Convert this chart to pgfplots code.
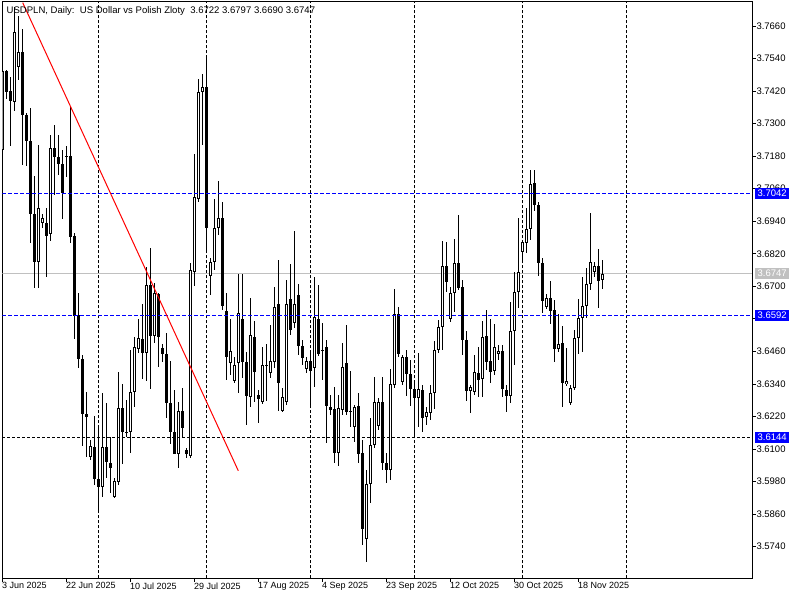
\documentclass[border=0pt]{standalone}
\usepackage{fontspec}
\setmainfont{Liberation Sans}
\usepackage{pgfplots}
\usepackage{pgfplotstable}
\pgfplotsset{compat=1.18}
\definecolor{mtblue}{RGB}{0,0,255}
\definecolor{mtsilver}{RGB}{192,192,192}

\pgfplotstableread{
O H L C
3.7203 3.7498 3.7155 3.7494
3.7494 3.7498 3.7391 3.7417
3.7420 3.7472 3.7218 3.7384
3.7380 3.7730 3.7347 3.7638
3.7509 3.7697 3.7461 3.7564
3.7564 3.7649 3.7148 3.7332
3.7332 3.7339 3.7144 3.7236
3.7236 3.7358 3.6860 3.6967
3.6967 3.7107 3.6694 3.6790
3.6790 3.7221 3.6694 3.6989
3.6934 3.6967 3.6915 3.6952
3.6934 3.6989 3.6735 3.6886
3.6893 3.7258 3.6867 3.7210
3.7210 3.7295 3.7037 3.7177
3.7177 3.7258 3.7111 3.7151
3.7151 3.7203 3.6948 3.7044
3.7181 3.7218 3.7103 3.7177
3.7181 3.7361 3.6860 3.6882
3.6886 3.6897 3.6506 3.6591
3.6594 3.6676 3.6399 3.6432
3.6432 3.6447 3.6111 3.6229
3.6229 3.6310 3.6071 3.6218
3.6071 3.6134 3.6060 3.6111
3.6108 3.6222 3.5968 3.5990
3.5990 3.6178 3.5875 3.5960
3.5960 3.6307 3.5923 3.6108
3.6108 3.6270 3.5993 3.6052
3.6049 3.6145 3.5938 3.6030
3.5923 3.5993 3.5921 3.5982
3.5979 3.6384 3.5968 3.6252
3.6252 3.6340 3.6045 3.6163
3.6163 3.6281 3.6145 3.6162
3.6162 3.6465 3.6086 3.6310
3.6310 3.6513 3.6255 3.6476
3.6469 3.6580 3.6454 3.6510
3.6506 3.6635 3.6358 3.6454
3.6454 3.6771 3.6351 3.6705
3.6705 3.6841 3.6322 3.6517
3.6517 3.6712 3.6491 3.6676
3.6672 3.6676 3.6403 3.6513
3.6473 3.6488 3.6421 3.6451
3.6451 3.6528 3.6215 3.6270
3.6270 3.6425 3.6119 3.6163
3.6163 3.6318 3.6093 3.6082
3.6082 3.6274 3.6030 3.6240
3.6240 3.6325 3.6141 3.6178
3.6097 3.6104 3.6067 3.6082
3.6075 3.6786 3.6067 3.6760
3.6753 3.7188 3.6701 3.7030
3.7022 3.7465 3.7011 3.7417
3.7417 3.7483 3.7221 3.7435
3.7435 3.7549 3.6827 3.6915
3.6738 3.6805 3.6668 3.6790
3.6790 3.7022 3.6760 3.6915
3.6915 3.7089 3.6889 3.6952
3.6952 3.7011 3.6613 3.6628
3.6609 3.6676 3.6355 3.6440
3.6417 3.6580 3.6373 3.6462
3.6351 3.6440 3.6344 3.6410
3.6417 3.6746 3.6307 3.6602
3.6580 3.6746 3.6362 3.6421
3.6421 3.6458 3.6189 3.6296
3.6292 3.6657 3.6255 3.6521
3.6513 3.6572 3.6274 3.6384
3.6299 3.6318 3.6196 3.6285
3.6274 3.6476 3.6266 3.6410
3.6410 3.6488 3.6277 3.6409
3.6381 3.6558 3.6362 3.6425
3.6421 3.6698 3.6399 3.6624
3.6635 3.6797 3.6240 3.6344
3.6240 3.6325 3.6237 3.6292
3.6274 3.6723 3.6263 3.6635
3.6653 3.6782 3.6521 3.6539
3.6565 3.6904 3.6547 3.6635
3.6668 3.6709 3.6447 3.6480
3.6480 3.6502 3.6410 3.6436
3.6395 3.6440 3.6381 3.6425
3.6425 3.6465 3.6255 3.6388
3.6399 3.6735 3.6329 3.6587
3.6580 3.6705 3.6443 3.6451
3.6465 3.6565 3.6355 3.6464
3.6476 3.6502 3.6122 3.6259
3.6255 3.6299 3.6226 3.6244
3.6248 3.6329 3.6049 3.6086
3.6086 3.6299 3.6038 3.6252
3.6244 3.6491 3.6226 3.6403
3.6417 3.6558 3.6226 3.6237
3.6240 3.6388 3.6181 3.6239
3.6181 3.6263 3.6126 3.6255
3.6259 3.6307 3.6049 3.6082
3.6086 3.6134 3.5746 3.5805
3.5768 3.6023 3.5684 3.5971
3.5971 3.6215 3.5901 3.6115
3.6115 3.6366 3.6104 3.6274
3.6185 3.6288 3.6170 3.6274
3.6274 3.6366 3.6023 3.6049
3.6049 3.6086 3.5975 3.6023
3.6023 3.6395 3.5986 3.6340
3.6336 3.6690 3.6325 3.6598
3.6598 3.6624 3.6440 3.6451
3.6347 3.6447 3.6336 3.6440
3.6440 3.6465 3.6296 3.6377
3.6377 3.6428 3.6259 3.6322
3.6322 3.6355 3.6145 3.6288
3.6288 3.6454 3.6181 3.6322
3.6318 3.6336 3.6163 3.6215
3.6218 3.6255 3.6189 3.6237
3.6233 3.6336 3.6207 3.6307
3.6307 3.6499 3.6248 3.6465
3.6465 3.6576 3.6454 3.6550
3.6550 3.6867 3.6465 3.6775
3.6775 3.6864 3.6679 3.6716
3.6580 3.6698 3.6569 3.6676
3.6676 3.6875 3.6605 3.6786
3.6786 3.6963 3.6687 3.6694
3.6698 3.6723 3.6447 3.6502
3.6502 3.6535 3.6277 3.6314
3.6314 3.6336 3.6233 3.6329
3.6310 3.6447 3.6299 3.6384
3.6381 3.6476 3.6292 3.6355
3.6358 3.6572 3.6292 3.6513
3.6517 3.6613 3.6392 3.6421
3.6425 3.6580 3.6344 3.6384
3.6388 3.6561 3.6373 3.6476
3.6451 3.6484 3.6428 3.6462
3.6462 3.6484 3.6292 3.6322
3.6318 3.6336 3.6237 3.6296
3.6296 3.6642 3.6270 3.6535
3.6535 3.6753 3.6410 3.6679
3.6679 3.6952 3.6620 3.6753
3.6827 3.6871 3.6797 3.6864
3.6860 3.6989 3.6823 3.6912
3.6912 3.7129 3.6871 3.7078
3.7081 3.7129 3.6978 3.7000
3.7000 3.7011 3.6738 3.6786
3.6786 3.6805 3.6602 3.6646
3.6624 3.6672 3.6617 3.6657
3.6657 3.6720 3.6561 3.6609
3.6613 3.6650 3.6421 3.6469
3.6469 3.6598 3.6458 3.6488
3.6491 3.6554 3.6255 3.6344
3.6340 3.6473 3.6333 3.6351
3.6270 3.6336 3.6263 3.6325
3.6325 3.6539 3.6318 3.6510
3.6510 3.6653 3.6451 3.6583
3.6583 3.6735 3.6458 3.6628
3.6628 3.6768 3.6583 3.6709
3.6709 3.6971 3.6687 3.6790
3.6753 3.6790 3.6735 3.6775
3.6775 3.6838 3.6620 3.6720
3.6722 3.6797 3.6690 3.6747
}\candles

\begin{document}
\begin{tikzpicture}[x=1pt,y=1pt]
\useasboundingbox (0,0) rectangle (800,600);
\fill[white] (0,0) rectangle (800,600);
\begin{axis}[
  at={(2.3pt,21.7pt)}, anchor=south west,
  scale only axis, width=750pt, height=576.6pt,
  xmin=-0.05, xmax=187.45, ymin=3.56235, ymax=3.77496,
  clip mode=individual,
  axis line style={black, line width=1pt},
  tick style={black, line width=0.8pt},
  tick align=outside, major tick length=3.5pt,
  xtick pos=bottom, ytick pos=right,
  yticklabel pos=right,
  xtick={0,16,32,48,64,80,96,112,128,144},
  xticklabels={3 Jun 2025,22 Jun 2025,10 Jul 2025,29 Jul 2025,17 Aug 2025,4 Sep 2025,23 Sep 2025,12 Oct 2025,30 Oct 2025,18 Nov 2025},
  x tick label style={anchor=north west, inner sep=0.5pt, xshift=-1pt, font=\fontsize{9}{10}\selectfont},
  ytick={3.5740,3.5860,3.5980,3.6100,3.6220,3.6340,3.6460,3.6580,3.6700,3.6820,3.6940,3.7060,3.7180,3.7300,3.7420,3.7540,3.7660},
  yticklabels={3.5740,3.5860,3.5980,3.6100,3.6220,3.6340,3.6460,,3.6700,3.6820,3.6940,3.7060,3.7180,3.7300,3.7420,3.7540,3.7660},
  y tick label style={anchor=west, inner sep=0.5pt, font=\fontsize{9.5}{10}\selectfont},
  scaled y ticks=false,
  candle/.style={only marks, mark=*, mark size=0pt, mark options={draw=none, fill=none}, forget plot,
    error bars/.cd, y dir=both, y explicit, error mark=none},
]
% vertical dotted grid
\pgfplotsinvokeforeach{23.875,50.875,76.875,102.875,129.875,155.875}{
  \draw[black, line width=0.8pt, dash pattern=on 3pt off 2pt] (axis cs:#1,3.56235) -- (axis cs:#1,3.77496);
}
% bid line
\addplot[color=mtsilver, line width=1pt, forget plot] coordinates {(-0.05,3.6747) (187.45,3.6747)};
% wicks
\addplot[candle, error bar style={draw=black, line width=1pt, solid}]
  table[x expr=\coordindex, y expr={(\thisrow{H}+\thisrow{L})/2}, y error expr={(\thisrow{H}-\thisrow{L})/2}] {\candles};
% bodies
\addplot[candle, error bar style={draw=black, line width=3pt, solid}]
  table[x expr=\coordindex, y expr={(\thisrow{O}+\thisrow{C})/2}, y error expr={max(abs(\thisrow{O}-\thisrow{C})/2,0.00019)}] {\candles};
% hollow interior of bullish bodies
\addplot[candle, error bar style={draw=white, line width=1pt, solid}]
  table[x expr=\coordindex, y expr={(\thisrow{O}+\thisrow{C})/2}, y error expr={max((\thisrow{C}-\thisrow{O})/2-0.00037,0)}] {\candles};
% horizontal levels
\addplot[color=mtblue, line width=1.1pt, dash pattern=on 4pt off 2pt, forget plot] coordinates {(-0.05,3.7042) (187.45,3.7042)};
\addplot[color=mtblue, line width=1.1pt, dash pattern=on 4pt off 2pt, forget plot] coordinates {(-0.05,3.6592) (187.45,3.6592)};
\addplot[color=black, line width=0.9pt, dash pattern=on 3pt off 2pt, forget plot] coordinates {(-0.05,3.6144) (187.45,3.6144)};
% trend line
\addplot[color=red, line width=1pt, forget plot] coordinates {(5.05,3.7746) (58.95,3.6020)};
\coordinate (L1) at (axis cs:187.45,3.7042);
\coordinate (L2) at (axis cs:187.45,3.6747);
\coordinate (L3) at (axis cs:187.45,3.6592);
\coordinate (L4) at (axis cs:187.45,3.6144);
\end{axis}
\tikzset{pricebox/.style={anchor=west, inner sep=0pt, minimum width=34pt, minimum height=11pt, text=white, font=\fontsize{9.5}{10}\selectfont}}
\node[pricebox, fill=mtblue] at ([xshift=2.7pt]L1) {3.7042};
\node[pricebox, fill=mtsilver] at ([xshift=2.7pt]L2) {3.6747};
\node[pricebox, fill=mtblue] at ([xshift=2.7pt]L3) {3.6592};
\node[pricebox, fill=mtblue] at ([xshift=2.7pt]L4) {3.6144};
\node[anchor=base west, inner sep=0pt, font=\fontsize{9.55}{10}\selectfont] at (6.5,586.5) {USDPLN, Daily:\ \ US Dollar vs Polish Zloty\ \ 3.6722 3.6797 3.6690 3.6747};
\end{tikzpicture}
\end{document}
